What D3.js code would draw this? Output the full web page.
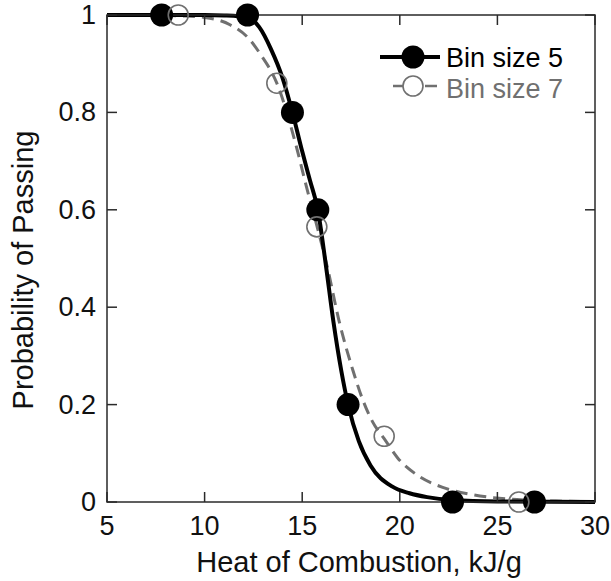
<!DOCTYPE html>
<html>
<head>
<meta charset="utf-8">
<script src="https://cdn.jsdelivr.net/npm/d3@7"></script>
<style>
  body { margin: 0; background: #fff; }
  text { font-family: "Liberation Sans", Arial, Helvetica, sans-serif; }
</style>
</head>
<body>
<main></main>
<script>
// measured points (Heat of Combustion kJ/g, probability)
const bin5X = [7.8, 12.2, 14.5, 15.8, 17.35, 22.7, 26.9];
const bin5Y = [1, 1, 0.8, 0.6, 0.2, 0, 0];
const bin7X = [8.65, 13.7, 15.75, 19.2, 26.1];
const bin7Y = [1, 0.86, 0.565, 0.135, 0];

// fitted curves
const fit5X = [5, 10, 11, 12.2, 12.8, 13.4, 14, 14.5, 15, 15.4, 15.8, 16.2, 16.6, 17, 17.35, 17.9, 18.5, 19.6, 20.5, 21.4, 22.7, 25, 30];
const fit5Y = [1, 1, 0.999, 0.995, 0.975, 0.93, 0.87, 0.8, 0.72, 0.66, 0.6, 0.49, 0.37, 0.27, 0.2, 0.125, 0.075, 0.032, 0.018, 0.01, 0.004, 0.001, 0];
const fit7X = [5, 9, 10, 11.3, 12.3, 12.85, 13.7, 14.7, 15.2, 15.8, 16.3, 16.9, 17.6, 18.1, 18.6, 19.2, 19.9, 20.9, 22.2, 23.6, 24.8, 26, 28, 30];
const fit7Y = [1, 0.998, 0.995, 0.98, 0.95, 0.92, 0.86, 0.73, 0.65, 0.56, 0.48, 0.37, 0.27, 0.21, 0.165, 0.13, 0.09, 0.055, 0.03, 0.016, 0.009, 0.005, 0.002, 0.001];

const xTicks = [5, 10, 15, 20, 25, 30];
const yTicks = [0, 0.2, 0.4, 0.6, 0.8, 1];
const legendLabels = ["Bin size 5", "Bin size 7"];

const width = 611;
const height = 581;
const plotLeft = 107, plotRight = 595, plotTop = 15, plotBottom = 502;

const x = d3.scaleLinear().domain([5, 30]).range([plotLeft, plotRight]);
const y = d3.scaleLinear().domain([0, 1]).range([plotBottom, plotTop]);

const svg = d3.select("main")
  .append("svg")
  .attr("width", width)
  .attr("height", height);

const axisColor = "#2a2a2a";
const gray = "#707070";

// clip so curves stay in the box
svg.append("clipPath").attr("id", "plot")
  .append("rect")
  .attr("x", plotLeft - 4).attr("y", plotTop - 14)
  .attr("width", plotRight - plotLeft + 8).attr("height", plotBottom - plotTop + 28);

const line = d3.line()
  .x(d => x(d[0]))
  .y(d => y(d[1]))
  .curve(d3.curveMonotoneX);

const plot = svg.append("g").attr("clip-path", "url(#plot)");

plot.append("path")
  .datum(fit7X.map((v, i) => [v, fit7Y[i]]))
  .attr("d", line)
  .attr("fill", "none")
  .attr("stroke", gray)
  .attr("stroke-width", 3)
  .attr("stroke-dasharray", "12,7");

plot.append("path")
  .datum(fit5X.map((v, i) => [v, fit5Y[i]]))
  .attr("d", line)
  .attr("fill", "none")
  .attr("stroke", "#000")
  .attr("stroke-width", 4);

// axes box with inward ticks on all four sides
const tickLen = 10;
const axes = svg.append("g")
  .attr("stroke", axisColor)
  .attr("stroke-width", 1.5)
  .attr("fill", "none");

axes.append("rect")
  .attr("x", plotLeft).attr("y", plotTop)
  .attr("width", plotRight - plotLeft).attr("height", plotBottom - plotTop);

axes.selectAll(".xtb")
  .data(xTicks)
  .enter()
  .append("line")
  .attr("x1", d => x(d)).attr("x2", d => x(d))
  .attr("y1", plotBottom).attr("y2", plotBottom - tickLen);
axes.selectAll(".xtt")
  .data(xTicks)
  .enter()
  .append("line")
  .attr("x1", d => x(d)).attr("x2", d => x(d))
  .attr("y1", plotTop).attr("y2", plotTop + tickLen);
axes.selectAll(".ytl")
  .data(yTicks)
  .enter()
  .append("line")
  .attr("y1", d => y(d)).attr("y2", d => y(d))
  .attr("x1", plotLeft).attr("x2", plotLeft + tickLen);
axes.selectAll(".ytr")
  .data(yTicks)
  .enter()
  .append("line")
  .attr("y1", d => y(d)).attr("y2", d => y(d))
  .attr("x1", plotRight).attr("x2", plotRight - tickLen);

// markers
svg.append("g")
  .selectAll("circle")
  .data(bin5X.map((v, i) => [v, bin5Y[i]]))
  .enter()
  .append("circle")
  .attr("cx", d => x(d[0]))
  .attr("cy", d => y(d[1]))
  .attr("r", 11.5)
  .attr("fill", "#000");

svg.append("g")
  .selectAll("circle")
  .data(bin7X.map((v, i) => [v, bin7Y[i]]))
  .enter()
  .append("circle")
  .attr("cx", d => x(d[0]))
  .attr("cy", d => y(d[1]))
  .attr("r", 10)
  .attr("fill", "none")
  .attr("stroke", gray)
  .attr("stroke-width", 1.6);

// tick labels
svg.append("g")
  .selectAll("text")
  .data(xTicks)
  .enter()
  .append("text")
  .attr("x", d => x(d))
  .attr("y", 535)
  .attr("text-anchor", "middle")
  .attr("font-size", 27)
  .attr("fill", "#111")
  .text(d => d);

svg.append("g")
  .selectAll("text")
  .data(yTicks)
  .enter()
  .append("text")
  .attr("x", 96)
  .attr("y", d => y(d) + 9)
  .attr("text-anchor", "end")
  .attr("font-size", 27)
  .attr("fill", "#111")
  .text(d => d);

// axis titles
svg.append("text")
  .attr("x", 359)
  .attr("y", 572)
  .attr("text-anchor", "middle")
  .attr("font-size", 29)
  .attr("fill", "#111")
  .text("Heat of Combustion, kJ/g");

svg.append("text")
  .attr("transform", "translate(33,270) rotate(-90)")
  .attr("text-anchor", "middle")
  .attr("font-size", 29)
  .attr("fill", "#111")
  .text("Probability of Passing");

// legend
const legend = svg.append("g");
legend.append("line")
  .attr("x1", 380).attr("x2", 440)
  .attr("y1", 57).attr("y2", 57)
  .attr("stroke", "#000").attr("stroke-width", 4);
legend.append("circle")
  .attr("cx", 413).attr("cy", 57).attr("r", 11.5)
  .attr("fill", "#000");
legend.append("line")
  .attr("x1", 380).attr("x2", 440)
  .attr("y1", 86).attr("y2", 86)
  .attr("stroke", gray).attr("stroke-width", 2.5)
  .attr("stroke-dasharray", "0,13,12,7");
legend.append("circle")
  .attr("cx", 413).attr("cy", 86).attr("r", 10)
  .attr("fill", "#fff")
  .attr("stroke", gray).attr("stroke-width", 1.6);

legend.selectAll("text")
  .data(legendLabels)
  .enter()
  .append("text")
  .attr("x", 446)
  .attr("y", (d, i) => 67 + i * 31)
  .attr("font-size", 27)
  .attr("fill", (d, i) => i === 0 ? "#000" : gray)
  .text(d => d);
</script>
</body>
</html>
